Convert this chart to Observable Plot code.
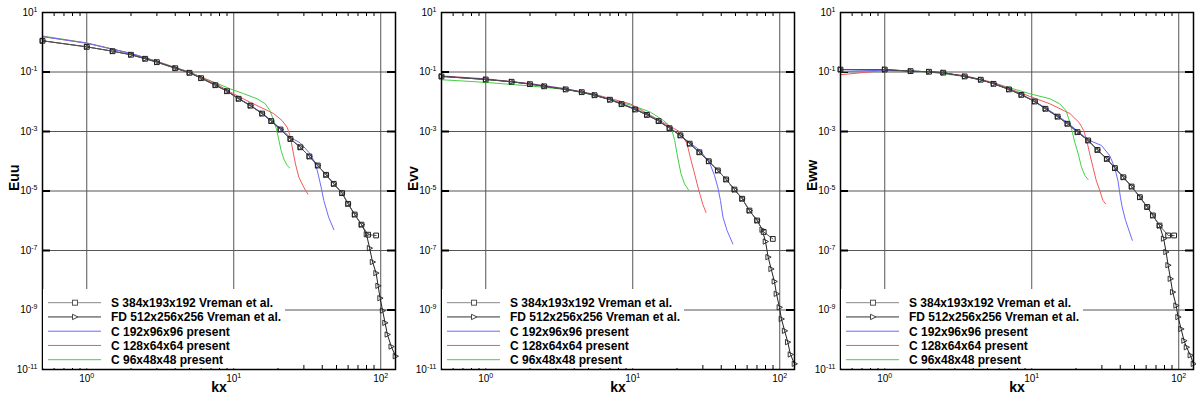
<!DOCTYPE html>
<html><head><meta charset="utf-8">
<script src="https://cdn.jsdelivr.net/npm/d3@7"></script>
<script src="https://cdn.jsdelivr.net/npm/@observablehq/plot@0.6"></script>
<style>
body{margin:0;background:#fff;}
#row{display:flex;width:1196px;height:401px;overflow:hidden;}
#row svg{flex:none;display:block;}
</style></head><body><div id="row"></div><script>
// ---------- labels / ticks ----------
const legendLabels = ["S 384x193x192 Vreman et al.", "FD 512x256x256 Vreman et al.", "C 192x96x96 present", "C 128x64x64 present", "C 96x48x48 present"];
const seriesColors = ["#777777", "#222222", "#6a6aff", "#f05a5a", "#44d044"];
const yLabels = ["Euu", "Evv", "Eww"];
const xLabel = "kx";
const xTicks = [1, 10, 100];
const xMinor = [0.6, 0.7, 0.8, 0.9, 2, 3, 4, 5, 6, 7, 8, 9, 20, 30, 40, 50, 60, 70, 80, 90];
const yTicks = [1e1, 1e-1, 1e-3, 1e-5, 1e-7, 1e-9, 1e-11];
const yGrid = [1e-1, 1e-3, 1e-5, 1e-7, 1e-9];

// ---------- Panel 1 : Euu ----------
const kS_uu = [0.5, 1, 1.5, 2, 2.5, 3, 4, 5, 6, 7.5, 9, 10.8, 13, 15.6, 18, 20.8, 24.3, 28.4, 32.7, 37.3, 42.5, 47.9, 54.6, 60, 66.5, 74, 82, 93];
const S_uu  = [1.12, 0.70, 0.50, 0.38, 0.278, 0.214, 0.134, 0.094, 0.062, 0.036, 0.0226, 0.0126, 0.0074, 0.0040, 0.00224, 0.00117, 5.6e-4, 2.95e-4, 1.45e-4, 7.2e-5, 3.5e-5, 1.74e-5, 8.5e-6, 3.7e-6, 1.62e-6, 7.4e-7, 3.4e-7, 3.2e-7];
const kFD_uu = [0.5, 1, 1.5, 2, 2.5, 3, 4, 5, 6, 7.5, 9, 10.8, 13, 15.6, 18, 20.8, 24.3, 28.4, 32.7, 37.3, 42.5, 47.9, 54.6, 60, 66.5, 74, 80, 84, 88, 93, 96, 99, 103, 107, 111, 118, 126];
const FD_uu  = [1.12, 0.70, 0.50, 0.38, 0.278, 0.214, 0.134, 0.094, 0.062, 0.036, 0.0226, 0.0126, 0.0074, 0.0040, 0.00224, 0.00117, 5.6e-4, 2.95e-4, 1.45e-4, 7.2e-5, 3.5e-5, 1.74e-5, 8.5e-6, 3.7e-6, 1.62e-6, 7.4e-7, 3.5e-7, 1.2e-7, 4.1e-8, 1.74e-8, 6.5e-9, 2.5e-9, 9.5e-10, 3.7e-10, 1.5e-10, 5.9e-11, 2.8e-11];
const kC192_uu = [0.5, 1, 2, 3, 4, 5, 7.5, 10.8, 15.6, 20.8, 24.3, 28.4, 32.4, 35, 36.5, 37.9, 39.3, 41, 44.2, 48];
const C192_uu  = [1.55, 0.93, 0.42, 0.224, 0.138, 0.095, 0.038, 0.0132, 0.0042, 0.00126, 6.3e-4, 4.1e-4, 2.0e-4, 1.07e-4, 6.3e-5, 2.95e-5, 1.35e-5, 4.8e-6, 1.32e-6, 5.0e-7];
const kC128_uu = [0.5, 1, 2, 3, 4, 5, 7.5, 9.5, 13, 18.7, 21.3, 23.1, 24.3, 25, 26.3, 27.7, 29.9, 31.9];
const C128_uu  = [1.55, 0.93, 0.42, 0.229, 0.141, 0.10, 0.0417, 0.0209, 0.0095, 0.0040, 0.00234, 0.00138, 6.5e-4, 2.95e-4, 8.1e-5, 2.95e-5, 1.35e-5, 7.9e-6];
const kC96_uu = [0.5, 1, 2, 3, 4, 5, 6, 7.5, 9.5, 11.7, 14.4, 16.4, 17.6, 18.5, 19.5, 20.2, 21, 21.9, 23.1, 24];
const C96_uu  = [1.62, 0.95, 0.42, 0.229, 0.141, 0.10, 0.0676, 0.0437, 0.0269, 0.0186, 0.0126, 0.0085, 0.0051, 0.0027, 0.00123, 5.6e-4, 2.3e-4, 1.2e-4, 7.2e-5, 6.0e-5];

// ---------- Panel 2 : Evv ----------
const kS_vv = [0.5, 1, 1.5, 2, 2.5, 3.5, 4.5, 5.5, 7, 8.4, 10.4, 12.5, 15, 17.8, 21.1, 24.4, 28.4, 32.9, 37.9, 43.2, 49.2, 55.5, 62.2, 70.2, 77.8, 89.7];
const S_vv  = [0.071, 0.056, 0.047, 0.039, 0.033, 0.026, 0.021, 0.0166, 0.0117, 0.0083, 0.0055, 0.0036, 0.00224, 0.00129, 7.4e-4, 3.9e-4, 2.0e-4, 1.0e-4, 4.9e-5, 2.45e-5, 1.12e-5, 5.5e-6, 2.2e-6, 1.02e-6, 4.2e-7, 2.45e-7];
const kFD_vv = [0.5, 1, 1.5, 2, 2.5, 3.5, 4.5, 5.5, 7, 8.4, 10.4, 12.5, 15, 17.8, 21.1, 24.4, 28.4, 32.9, 37.9, 43.2, 49.2, 55.5, 62.2, 70.2, 76, 80, 83.4, 87.4, 92, 95, 99.5, 102.7, 108, 113.4, 118.3, 126];
const FD_vv  = [0.071, 0.056, 0.047, 0.039, 0.033, 0.026, 0.021, 0.0166, 0.0117, 0.0083, 0.0055, 0.0036, 0.00224, 0.00129, 7.4e-4, 3.9e-4, 2.0e-4, 1.0e-4, 4.9e-5, 2.45e-5, 1.12e-5, 5.5e-6, 2.2e-6, 1.02e-6, 5.0e-7, 2.0e-7, 6.0e-8, 2.4e-8, 9.1e-9, 3.5e-9, 1.23e-9, 5.0e-10, 2.0e-10, 8.3e-11, 3.2e-11, 1.55e-11];
const kC192_vv = [0.5, 1, 2, 3.5, 5.5, 8.4, 12.5, 17.8, 24.4, 28.8, 33.5, 36, 38, 39.5, 41.1, 43.8, 48];
const C192_vv  = [0.072, 0.0575, 0.040, 0.027, 0.0174, 0.0089, 0.0039, 0.00138, 4.2e-4, 2.3e-4, 8.3e-5, 3.3e-5, 1.26e-5, 4.8e-6, 1.32e-6, 4.7e-7, 1.66e-7];
const kC128_vv = [0.5, 1, 2, 3.5, 5.5, 9.6, 16.2, 21.1, 23.4, 24.6, 26, 27.4, 28.8, 30, 31.5];
const C128_vv  = [0.074, 0.059, 0.041, 0.0275, 0.0178, 0.0085, 0.0020, 9.5e-4, 3.9e-4, 1.38e-4, 4.9e-5, 1.74e-5, 7.1e-6, 3.5e-6, 1.9e-6];
const kC96_vv = [0.5, 1, 2, 3.7, 5.4, 10, 13.2, 16.2, 17.5, 18.5, 19.3, 20.2, 21.3, 22.5, 24];
const C96_vv  = [0.055, 0.0447, 0.034, 0.0251, 0.0166, 0.0074, 0.00447, 0.00234, 0.00166, 0.00107, 5.0e-4, 1.38e-4, 3.8e-5, 1.74e-5, 1.07e-5];

// ---------- Panel 3 : Eww ----------
const kS_ww = [0.5, 1, 1.5, 2, 2.5, 3.5, 4.5, 5.5, 7, 8.5, 10.5, 12.4, 15, 17.5, 20.5, 24.2, 28, 32.4, 36.8, 42, 47.8, 54.4, 61, 66.7, 74, 84.7, 93];
const S_ww  = [0.121, 0.121, 0.107, 0.102, 0.095, 0.071, 0.055, 0.040, 0.026, 0.017, 0.0102, 0.0058, 0.00316, 0.00182, 9.5e-4, 5.0e-4, 2.4e-4, 1.2e-4, 5.9e-5, 2.9e-5, 1.41e-5, 6.2e-6, 2.9e-6, 1.51e-6, 6.9e-7, 3.2e-7, 3.2e-7];
const kFD_ww = [0.5, 1, 1.5, 2, 2.5, 3.5, 4.5, 5.5, 7, 8.5, 10.5, 12.4, 15, 17.5, 20.5, 24.2, 28, 32.4, 36.8, 42, 47.8, 54.4, 61, 66.7, 74, 79, 82, 84.7, 87.8, 91, 96, 99, 103.8, 108.7, 113, 120, 126];
const FD_ww  = [0.121, 0.121, 0.107, 0.102, 0.095, 0.071, 0.055, 0.040, 0.026, 0.017, 0.0102, 0.0058, 0.00316, 0.00182, 9.5e-4, 5.0e-4, 2.4e-4, 1.2e-4, 5.9e-5, 2.9e-5, 1.41e-5, 6.2e-6, 2.9e-6, 1.51e-6, 6.9e-7, 2.5e-7, 8.9e-8, 3.2e-8, 1.12e-8, 4.0e-9, 1.41e-9, 5.8e-10, 2.3e-10, 9.3e-11, 5.6e-11, 3.0e-11, 1.55e-11];
const kC192_ww = [0.5, 1, 2, 2.5, 3.5, 5.5, 8.5, 12.4, 17.5, 24.2, 29.8, 33.9, 36.6, 38.6, 40.1, 41.2, 43.5, 48.3];
const C192_ww  = [0.105, 0.115, 0.102, 0.093, 0.072, 0.042, 0.018, 0.0063, 0.0020, 5.2e-4, 3.4e-4, 1.55e-4, 6.3e-5, 2.2e-5, 6.2e-6, 2.9e-6, 1.02e-6, 2.2e-7];
const kC128_ww = [0.5, 1, 2, 3.5, 5.5, 9.7, 13.3, 18.2, 21, 22.6, 23.8, 24.8, 26.1, 27.5, 29, 30.5, 31.8];
const C128_ww  = [0.081, 0.112, 0.102, 0.076, 0.044, 0.0151, 0.0085, 0.0040, 0.0020, 0.00107, 4.4e-4, 1.78e-4, 6.3e-5, 2.2e-5, 1.05e-5, 4.8e-6, 3.7e-6];
const kC96_ww = [0.5, 1, 2, 2.5, 3.5, 5.5, 7, 9.7, 13.3, 15.5, 17.1, 18, 18.9, 19.6, 20.7, 21.8, 23, 24.2];
const C96_ww  = [0.102, 0.112, 0.10, 0.087, 0.071, 0.043, 0.030, 0.0186, 0.0126, 0.0085, 0.0051, 0.00234, 9.5e-4, 4.4e-4, 1.78e-4, 6.3e-5, 3.3e-5, 2.4e-5];

const panels = [
  {label: yLabels[0], series: [[kS_uu, S_uu], [kFD_uu, FD_uu], [kC192_uu, C192_uu], [kC128_uu, C128_uu], [kC96_uu, C96_uu]]},
  {label: yLabels[1], series: [[kS_vv, S_vv], [kFD_vv, FD_vv], [kC192_vv, C192_vv], [kC128_vv, C128_vv], [kC96_vv, C96_vv]]},
  {label: yLabels[2], series: [[kS_ww, S_ww], [kFD_ww, FD_ww], [kC192_ww, C192_ww], [kC128_ww, C128_ww], [kC96_ww, C96_ww]]}
];

// right-pointing triangle symbol
const triangleRight = {
  draw(ctx, size) {
    const h = Math.sqrt(size / Math.PI);
    ctx.moveTo(-h, -h * 1.15);
    ctx.lineTo(h * 1.3, 0);
    ctx.lineTo(-h, h * 1.15);
    ctx.closePath();
  }
};

const W = 398, H = 401, ML = 42, MR = 3, MT = 12, MB = 32;
const innerW = W - ML - MR, innerH = H - MT - MB;
const fmt = d => `10^${Math.round(Math.log10(d))}`;
const FONT = "'Liberation Sans', Arial, Helvetica, sans-serif";

function toRows([ks, es]) { return ks.map((k, i) => ({k, e: es[i]})); }

function buildPanel(p) {
  const rows = p.series.map(toRows);
  const marks = [
    Plot.ruleX(xTicks, {stroke: "#555", strokeWidth: 1}),
    Plot.ruleY(yGrid, {stroke: "#555", strokeWidth: 1}),
    Plot.tickX(xMinor, {x: d => d, insetBottom: innerH - 4, stroke: "#000"}),
    Plot.tickX(xMinor, {x: d => d, insetTop: innerH - 4, stroke: "#000"}),
    Plot.tickY(yGrid, {y: d => d, insetRight: innerW - 8, strokeWidth: 2, stroke: "#000"}),
    Plot.tickY(yGrid, {y: d => d, insetLeft: innerW - 8, strokeWidth: 2, stroke: "#000"}),
  ];
  [4, 3, 2].forEach(i => marks.push(Plot.line(rows[i], {x: "k", y: "e", stroke: seriesColors[i], strokeWidth: 1})));
  marks.push(Plot.line(rows[1], {x: "k", y: "e", stroke: seriesColors[1], strokeWidth: 1}));
  marks.push(Plot.dot(rows[1], {x: "k", y: "e", symbol: triangleRight, r: 2.3, stroke: "#222", strokeWidth: 0.9, fill: "none"}));
  marks.push(Plot.line(rows[0], {x: "k", y: "e", stroke: "#555", strokeWidth: 1}));
  marks.push(Plot.dot(rows[0], {x: "k", y: "e", symbol: "square", r: 2.7, stroke: "#222", strokeWidth: 1, fill: "none"}));
  marks.push(Plot.frame({stroke: "#000", strokeWidth: 1.5}));
  marks.push(Plot.text([p.label], {text: d => d, frameAnchor: "left", dx: -28, rotate: -90, fontSize: 14, fontWeight: "bold", fill: "#000"}));
  marks.push(Plot.text([xLabel], {text: d => d, frameAnchor: "bottom", dy: 22, fontSize: 14, fontWeight: "bold", fill: "#000"}));

  const svg = Plot.plot({
    width: W, height: H, marginLeft: ML, marginRight: MR, marginTop: MT, marginBottom: MB,
    style: {fontFamily: FONT, fontSize: "10px", background: "#fff", color: "#000", overflow: "visible"},
    x: {type: "log", domain: [0.5, 126], ticks: xTicks, tickFormat: fmt, tickSize: 0, tickPadding: 5, label: null},
    y: {type: "log", domain: [1e-11, 10], ticks: yTicks, tickFormat: fmt, tickSize: 0, tickPadding: 5, label: null},
    marks
  });

  // superscript tick labels
  d3.select(svg).selectAll("text").each(function() {
    const m = /^10\^(-?\d+)$/.exec(this.textContent);
    if (!m) return;
    const t = d3.select(this);
    t.text(null);
    t.append("tspan").text("10");
    t.append("tspan").attr("dy", "-0.55em").attr("font-size", "7px").text(m[1]);
  });

  // legend box
  const g = d3.select(svg).append("g").attr("font-family", FONT).attr("text-anchor", "start");
  g.append("rect").attr("x", ML + 1).attr("y", 289).attr("width", 242).attr("height", H - MB - 289 - 1).attr("fill", "#fff");
  legendLabels.forEach((lab, i) => {
    const y = 302.7 + i * 14.25;
    g.append("line").attr("x1", 48).attr("x2", 101).attr("y1", y).attr("y2", y)
      .attr("stroke", i === 0 ? "#888" : i === 1 ? "#333" : seriesColors[i]).attr("stroke-width", 1);
    if (i === 0) {
      g.append("rect").attr("x", 72.5).attr("y", y - 2.5).attr("width", 5).attr("height", 5)
        .attr("fill", "#fff").attr("stroke", "#555");
    } else if (i === 1) {
      g.append("path").attr("d", `M${72.5},${y - 2.7}L${78},${y}L${72.5},${y + 2.7}Z`)
        .attr("fill", "#fff").attr("stroke", "#444");
    }
    g.append("text").attr("x", 111).attr("y", y).attr("dy", "0.36em").attr("text-anchor", "start")
      .attr("font-size", 12).attr("font-weight", "bold").attr("fill", "#000").text(lab);
  });
  return svg;
}

const row = document.getElementById("row");
panels.forEach((p, i) => {
  const svg = buildPanel(p);
  if (i < 2) svg.style.marginRight = "1px";
  row.appendChild(svg);
});
</script></body></html>
